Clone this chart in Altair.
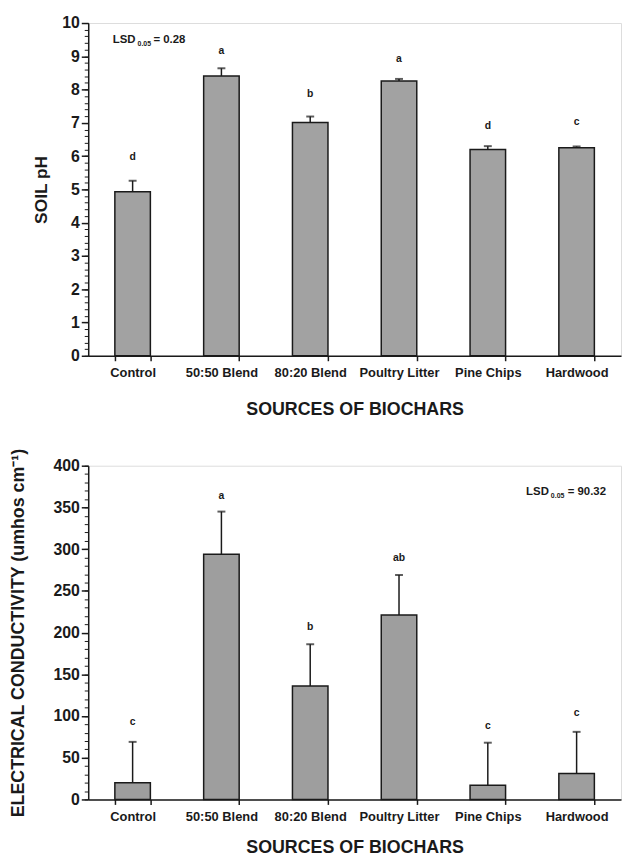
import altair as alt
import pandas as pd

categories = ["Control", "50:50 Blend", "80:20 Blend", "Poultry Litter", "Pine Chips", "Hardwood"]

ph_mean = [4.93, 8.41, 7.01, 8.26, 6.20, 6.25]
ph_err_top = [5.26, 8.64, 7.19, 8.32, 6.30, 6.29]
ph_letters = ["d", "a", "b", "a", "d", "c"]
ph_letter_y = [5.97, 9.15, 7.87, 8.92, 6.90, 7.02]
ph_major_ticks = list(range(0, 11))
ph_minor_ticks = [round(i * 0.2, 1) for i in range(51)]
ph_lsd = ["LSD", "0.05", "= 0.28"]

ec_mean = [20, 294, 136, 221, 17, 31]
ec_err_top = [69, 345, 186, 269, 68, 81]
ec_letters = ["c", "a", "b", "ab", "c", "c"]
ec_letter_y = [93, 364, 207, 289, 88, 103]
ec_major_ticks = list(range(0, 401, 50))
ec_minor_ticks = list(range(0, 401, 10))
ec_lsd = ["LSD", "0.05", "= 90.32"]

FONT = "Liberation Sans"
INK = "#1a1a1a"
W = 538


def panel(mean, err, letters, letter_y, major, minor, domain, ytitle, ytitle_size, fill, height,
          lsd, lsd_cat, lsd_y, lsd_dx, ytitle_x, xtitle_y):
    df = pd.DataFrame({"source": categories, "mean": mean, "err": err,
                       "letter": letters, "ly": letter_y})
    yscale = alt.Scale(domain=domain, nice=False, zero=True)
    xs = alt.Scale(paddingInner=0.6, paddingOuter=0.3)
    x_main = alt.X(
        "source:N", sort=categories, scale=xs,
        axis=alt.Axis(
            title="SOURCES OF BIOCHARS", labelAngle=0, tickBand="extent",
            labelFont=FONT, labelFontSize=13, labelFontWeight="bold", labelColor=INK,
            labelPadding=6, tickSize=5, tickWidth=1.5, tickColor=INK,
            domainColor=INK, domainWidth=1.5,
            titleFont=FONT, titleFontSize=18, titleFontWeight="bold", titleColor=INK,
            titleBaseline="alphabetic", titleY=xtitle_y, titleX=W / 2,
        ),
    )
    x_plain = alt.X("source:N", sort=categories, scale=xs)

    bars = alt.Chart(df).mark_bar(fill=fill, stroke=INK, strokeWidth=1.5).encode(
        x=x_main,
        y=alt.Y(
            "mean:Q", scale=yscale,
            axis=alt.Axis(
                values=major, title=ytitle, grid=False,
                labelFont=FONT, labelFontSize=16, labelFontWeight="bold", labelColor=INK,
                labelPadding=2, tickSize=7, tickWidth=1.5, tickColor=INK,
                domainColor=INK, domainWidth=1.5,
                titleFont=FONT, titleFontSize=ytitle_size, titleFontWeight="bold", titleColor=INK,
                titleX=ytitle_x, titleY=height / 2, titleAngle=270,
                titleBaseline="middle", titleAlign="center",
            ),
        ),
    )
    rule = alt.Chart(df).mark_rule(color=INK, strokeWidth=1.5).encode(
        x=x_plain,
        y=alt.Y(
            "mean:Q", scale=yscale,
            axis=alt.Axis(orient="left", values=minor, labels=False, domain=False,
                          tickSize=4, tickWidth=1, tickColor=INK, grid=False, title=None),
        ),
        y2="err:Q",
    )
    cap = alt.Chart(df).mark_tick(color=INK, thickness=2, size=8).encode(
        x=x_plain, y=alt.Y("err:Q", scale=yscale, axis=None)
    )
    text = alt.Chart(df).mark_text(
        font=FONT, fontSize=10.5, fontWeight="bold", color=INK, baseline="middle"
    ).encode(x=x_plain, y=alt.Y("ly:Q", scale=yscale, axis=None), text="letter:N")

    lsd_df = pd.DataFrame({"source": [lsd_cat], "y": [lsd_y],
                           "a": [lsd[0]], "b": [lsd[1]], "c": [lsd[2]]})
    lsd_layers = []
    for col, dx, size, dy in [("a", lsd_dx[0], 11.5, 0), ("b", lsd_dx[1], 7, 4), ("c", lsd_dx[2], 11.5, 0)]:
        lsd_layers.append(
            alt.Chart(lsd_df).mark_text(
                font=FONT, fontSize=size, fontWeight="bold", color=INK,
                align="left", baseline="middle", dx=dx, dy=dy,
            ).encode(x=x_plain, y=alt.Y("y:Q", scale=yscale, axis=None), text=f"{col}:N")
        )

    return alt.layer(bars, rule, cap, text, *lsd_layers).resolve_axis(y="independent").properties(
        width=W, height=height
    )


top = panel(ph_mean, ph_err_top, ph_letters, ph_letter_y, ph_major_ticks, ph_minor_ticks,
            [0, 10], "SOIL pH", 17.5, "#a2a2a2", 336, ph_lsd, "Control", 9.5, [-20, 5, 21], -47, 59)
bottom = panel(ec_mean, ec_err_top, ec_letters, ec_letter_y, ec_major_ticks, ec_minor_ticks,
               [0, 400], "ELECTRICAL CONDUCTIVITY (umhos cm⁻¹)", 18, "#9e9e9e", 337, ec_lsd,
               "Hardwood", 369, [-51, -26, -9], -70, 54)

chart = alt.vconcat(top, bottom, spacing=111, bounds="flush").properties(
    padding={"left": 1, "top": 2, "right": 0, "bottom": 0}
).configure_view(stroke=INK, strokeWidth=1.5).configure(font=FONT)

chart.save("out.html", embed_options={"renderer": "svg", "actions": False})
